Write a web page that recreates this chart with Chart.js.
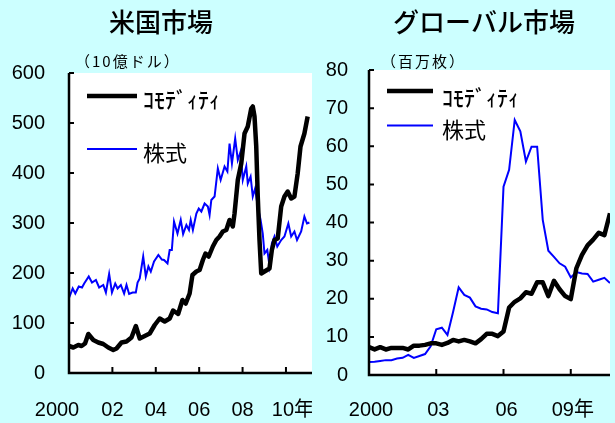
<!DOCTYPE html>
<html>
<head>
<meta charset="utf-8">
<script src="https://cdn.jsdelivr.net/npm/chart.js@4.4.0/dist/chart.umd.min.js"></script>
<style>
  html, body { margin: 0; padding: 0; background: #ccffff; }
  #wrap { position: relative; width: 615px; height: 423px; overflow: hidden; }
  canvas { position: absolute; top: 0; }
  #us { left: 0; }
  #gl { left: 312px; }
</style>
</head>
<body>
<div id="wrap">
  <canvas id="us" width="312" height="423"></canvas>
  <canvas id="gl" width="303" height="423"></canvas>
</div>
<script>
// --- 米国市場 (10億ドル) ---
const usCommodityYears = [2000.0, 2000.2, 2000.43, 2000.58, 2000.74, 2000.89, 2001.12, 2001.35, 2001.58, 2001.81,
  2002.04, 2002.19, 2002.42, 2002.65, 2002.88, 2003.08, 2003.26, 2003.49, 2003.72, 2003.95,
  2004.18, 2004.41, 2004.64, 2004.8, 2005.03, 2005.23, 2005.38, 2005.56, 2005.69, 2005.87,
  2006.02, 2006.17, 2006.29, 2006.44, 2006.63, 2006.79, 2006.94, 2007.09, 2007.25, 2007.4,
  2007.55, 2007.63, 2007.78, 2007.94, 2008.09, 2008.24, 2008.4, 2008.47, 2008.55, 2008.63,
  2008.7, 2008.78, 2008.86, 2009.01, 2009.24, 2009.35, 2009.47, 2009.62, 2009.78, 2009.93,
  2010.08, 2010.24, 2010.39, 2010.54, 2010.67, 2010.85, 2011.0];
const usCommodityValues = [54, 51, 56, 54, 59, 78, 66, 61, 58, 51,
  46, 49, 61, 63, 71, 94, 69, 74, 79, 96,
  109, 103, 109, 125, 118, 146, 139, 159, 196, 203,
  206, 226, 239, 233, 253, 266, 273, 283, 286, 306,
  293, 319, 386, 419, 479, 493, 529, 533, 513, 453,
  353, 266, 199, 203, 209, 246, 266, 269, 333, 353,
  363, 349, 353, 399, 453, 479, 513];

const usStockYears = [2000.0, 2000.17, 2000.29, 2000.45, 2000.6, 2000.7, 2000.91, 2001.06, 2001.24, 2001.39,
  2001.58, 2001.7, 2001.85, 2001.98, 2002.13, 2002.24, 2002.39, 2002.54, 2002.65, 2002.77,
  2002.93, 2003.08, 2003.16, 2003.26, 2003.42, 2003.54, 2003.66, 2003.77, 2003.92, 2004.12,
  2004.28, 2004.38, 2004.54, 2004.64, 2004.74, 2004.84, 2005.0, 2005.15, 2005.26, 2005.41,
  2005.53, 2005.61, 2005.71, 2005.87, 2005.98, 2006.1, 2006.25, 2006.4, 2006.48, 2006.56,
  2006.71, 2006.86, 2006.99, 2007.17, 2007.3, 2007.4, 2007.51, 2007.66, 2007.78, 2007.91,
  2008.01, 2008.17, 2008.24, 2008.37, 2008.47, 2008.58, 2008.7, 2008.83, 2008.93, 2009.01,
  2009.14, 2009.24, 2009.35, 2009.47, 2009.6, 2009.78, 2009.93, 2010.11, 2010.24, 2010.39,
  2010.51, 2010.7, 2010.85, 2010.97, 2011.08];
const usStockValues = [150, 169, 159, 173, 171, 179, 193, 181, 186, 171,
  176, 161, 198, 161, 179, 169, 176, 159, 176, 158,
  161, 161, 181, 189, 233, 193, 213, 203, 223, 236,
  227, 226, 219, 246, 246, 303, 279, 306, 278, 296,
  286, 306, 286, 319, 329, 323, 339, 333, 316, 346,
  353, 409, 386, 413, 403, 459, 419, 469, 426, 443,
  386, 413, 379, 393, 353, 369, 333, 306, 279, 239,
  246, 215, 259, 273, 253, 266, 273, 299, 273, 283,
  266, 283, 313, 299, 301];

const usTickYears = [2000, 2002, 2004, 2006, 2008, 2010];
const usTickLabels = ['2000', '02', '04', '06', '08', '10年'];

// --- グローバル市場 (百万枚), quarterly from 2000Q1 ---
const globalCommodity = [7.3, 6.7, 7.3, 6.7, 7.1, 7.1, 7.1, 6.7, 7.7, 7.7,
  7.9, 8.3, 8.3, 7.9, 8.4, 9.2, 8.8, 9.2, 8.8, 8.3,
  9.4, 10.8, 10.8, 10.2, 11.4, 17.7, 19.2, 20.1, 21.7, 21.3,
  24.3, 24.3, 20.7, 24.7, 22.5, 20.7, 19.9, 28, 31.5, 34,
  35.5, 37.3, 36.7, 42.4];
const globalStocks = [3.4, 3.5, 3.7, 3.9, 3.9, 4.3, 4.5, 5.3, 4.5, 5.0,
  5.5, 7.5, 12.0, 12.4, 10.5, 16.5, 23.0, 21.0, 20.3, 18.0,
  17.4, 17.2, 16.5, 16.2, 49.4, 53.8, 66.9, 63.9, 56.0, 59.9,
  59.9, 40.7, 32.6, 31.0, 29.3, 28.4, 25.6, 27.0, 26.6, 26.5,
  24.5, 25.0, 25.5, 24.1];
const globalQuarters = globalCommodity.map((v, i) => 2000 + i / 4);

const globalTickYears = [2000, 2003, 2006, 2009];
const globalTickLabels = ['2000', '03', '06', '09年'];

const seriesNames = ['ｺﾓﾃﾞｨﾃｨ', '株式'];

const NUM_FONT = "'Liberation Sans', 'Noto Sans CJK JP', sans-serif";
const JP_FONT = "'Noto Sans CJK JP', sans-serif";

// white plot area, axes, inner ticks, x labels, legend and headings
const framePlugin = {
  id: 'frame',
  beforeDraw(chart) {
    const {ctx, chartArea: a} = chart;
    ctx.save();
    ctx.fillStyle = '#fff';
    ctx.fillRect(a.left - 1, a.top, a.right - a.left + 1, a.bottom - a.top);
    ctx.restore();
  },
  afterDraw(chart, args, o) {
    const {ctx, chartArea: a, scales: {x, y}} = chart;
    ctx.save();
    ctx.strokeStyle = '#000';
    ctx.lineWidth = 2.5;
    ctx.beginPath();
    ctx.moveTo(a.left, a.top);
    ctx.lineTo(a.left, a.bottom);
    ctx.lineTo(a.right, a.bottom);
    ctx.stroke();

    ctx.lineWidth = 2;
    ctx.beginPath();
    y.ticks.forEach(t => {
      const py = y.getPixelForValue(t.value);
      ctx.moveTo(a.left, py);
      ctx.lineTo(a.left + 5, py);
    });
    o.tickYears.forEach(v => {
      const px = x.getPixelForValue(v);
      ctx.moveTo(px, a.bottom);
      ctx.lineTo(px, a.bottom - 6);
    });
    ctx.stroke();

    ctx.fillStyle = '#000';
    ctx.font = '20px ' + NUM_FONT;
    ctx.textAlign = 'center';
    ctx.textBaseline = 'middle';
    o.tickYears.forEach((v, i) => {
      ctx.fillText(o.tickLabels[i], x.getPixelForValue(v) + o.labelShift[i], 410);
    });

    // legend
    const lg = o.legend;
    ctx.textAlign = 'left';
    ctx.lineCap = 'butt';
    chart.data.datasets.forEach((ds, i) => {
      ctx.strokeStyle = ds.borderColor;
      ctx.lineWidth = ds.borderWidth;
      ctx.beginPath();
      ctx.moveTo(a.left + lg.x0, a.top + lg.lineY[i]);
      ctx.lineTo(a.left + lg.x1, a.top + lg.lineY[i]);
      ctx.stroke();
      ctx.font = (i === 0 ? '500 22px ' : '22px ') + JP_FONT;
      ctx.fillText(ds.label, a.left + lg.textX, a.top + lg.textY[i]);
    });

    // heading and unit
    ctx.font = '500 26px ' + JP_FONT;
    ctx.textAlign = 'center';
    ctx.fillText(o.title, o.titleX, 22);
    ctx.font = '15px ' + JP_FONT;
    ctx.textAlign = 'left';
    ctx.letterSpacing = '2px';
    ctx.fillText(o.unit, o.unitX, 61);
    ctx.restore();
  }
};

function makeChart(id, cfg) {
  return new Chart(document.getElementById(id), {
    type: 'line',
    data: {
      datasets: [{
        label: seriesNames[0],
        data: cfg.commodity,
        borderColor: '#000000',
        borderWidth: 4.5,
        borderJoinStyle: 'round',
        pointRadius: 0,
        order: 0
      }, {
        label: seriesNames[1],
        data: cfg.stocks,
        borderColor: '#0000ff',
        borderWidth: 2,
        pointRadius: 0,
        order: 1
      }]
    },
    options: {
      responsive: false,
      animation: false,
      layout: { padding: { top: cfg.top, right: cfg.right, left: 0, bottom: 0 } },
      plugins: {
        legend: { display: false },
        tooltip: { enabled: false },
        frame: cfg.frame
      },
      scales: {
        x: {
          type: 'linear',
          min: cfg.xMin,
          max: cfg.xMax,
          grid: { display: false, drawTicks: false },
          border: { display: false },
          ticks: { display: false },
          afterFit: s => { s.height = cfg.xHeight; }
        },
        y: {
          min: 0,
          max: cfg.yMax,
          grid: { display: false, drawTicks: false },
          border: { display: false },
          ticks: {
            stepSize: cfg.yStep,
            padding: cfg.yPad,
            color: '#000',
            font: { family: NUM_FONT, size: 20 }
          },
          afterFit: s => { s.width = cfg.yWidth; }
        }
      }
    },
    plugins: [framePlugin]
  });
}

makeChart('us', {
  commodity: usCommodityYears.map((t, i) => ({x: t, y: usCommodityValues[i]})),
  stocks: usStockYears.map((t, i) => ({x: t, y: usStockValues[i]})),
  xMin: 2000, xMax: 2011.2, yMax: 600, yStep: 100,
  top: 73, right: 0, xHeight: 50, yWidth: 69, yPad: 24,
  frame: {
    tickYears: usTickYears,
    tickLabels: usTickLabels,
    labelShift: [-12, 0, 0, 0, 0, 7],
    legend: { x0: 18, x1: 68, textX: 74, lineY: [23, 76], textY: [27, 80] },
    title: '米国市場', titleX: 161,
    unit: '（10億ドル）', unitX: 75
  }
});

makeChart('gl', {
  commodity: globalQuarters.map((t, i) => ({x: t, y: globalCommodity[i]})),
  stocks: globalQuarters.map((t, i) => ({x: t, y: globalStocks[i]})),
  xMin: 2000, xMax: 2010.75, yMax: 80, yStep: 10,
  top: 70, right: 5, xHeight: 48, yWidth: 57, yPad: 21,
  frame: {
    tickYears: globalTickYears,
    tickLabels: globalTickLabels,
    labelShift: [2, 2, 3, 2],
    legend: { x0: 18, x1: 64, textX: 73, lineY: [21, 55.5], textY: [28, 60] },
    title: 'グローバル市場', titleX: 172,
    unit: '（百万枚）', unitX: 69
  }
});
</script>
</body>
</html>
